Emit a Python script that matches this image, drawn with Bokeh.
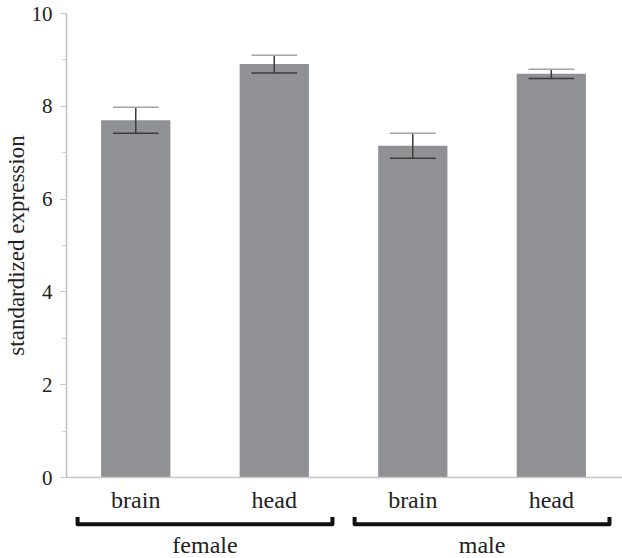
from bokeh.plotting import figure
from bokeh.models import SingleIntervalTicker, FixedTicker, ColumnDataSource, Range1d
from bokeh.layouts import column
from bokeh.core.properties import value
from bokeh.embed import file_html
from bokeh.resources import INLINE
import numpy as np

# ---- data ----
groups = ["female", "male"]
tissues = ["brain", "head"]
means = [7.70, 8.91, 7.15, 8.70]
errors = [0.28, 0.19, 0.27, 0.10]
y_ticks = [0, 2, 4, 6, 8, 10]

# ---- derived ----
labels = [t for g in groups for t in tissues]
xpos = np.arange(len(labels)) + 0.5
means_a = np.array(means)
err_a = np.array(errors)
group_centers = [float(np.mean(xpos[i * len(tissues):(i + 1) * len(tissues)])) for i in range(len(groups))]

FONT = "Liberation Serif"
W = 622
TOP_H = 515
BOT_H = 558 - TOP_H

xr = Range1d(0, 4.014)

p = figure(width=W, height=TOP_H, output_backend="svg", toolbar_location=None,
           x_range=xr, y_range=Range1d(min(y_ticks), max(y_ticks)))
p.min_border_top = 13
p.min_border_bottom = TOP_H - 478
p.min_border_right = 0
p.min_border_left = 66
p.outline_line_color = None
p.xgrid.visible = False
p.ygrid.visible = False

yax = p.yaxis[0]
yax.ticker = SingleIntervalTicker(interval=2, num_minor_ticks=2)
yax.bounds = (min(y_ticks), max(y_ticks))
yax.axis_label = "standardized expression"
yax.axis_label_text_font = FONT
yax.axis_label_text_font_size = "23px"
yax.axis_label_text_font_style = "normal"
yax.axis_label_text_color = "#222222"
yax.axis_label_standoff = 0
yax.major_label_text_font = FONT
yax.major_label_text_font_size = "21px"
yax.major_label_text_color = "#222222"
yax.major_label_standoff = 8
yax.axis_line_color = "#c0c0c0"
yax.axis_line_width = 1.5
yax.major_tick_line_color = "#b8b8b8"
yax.minor_tick_line_color = "#c8c8c8"
yax.major_tick_in = 0
yax.major_tick_out = 6
yax.minor_tick_in = 0
yax.minor_tick_out = 4

xax = p.xaxis[0]
xax.ticker = FixedTicker(ticks=list(xpos), minor_ticks=[])
xax.major_label_overrides = {float(x): l for x, l in zip(xpos, labels)}
xax.major_label_text_font = FONT
xax.major_label_text_font_size = "24px"
xax.major_label_text_color = "#222222"
xax.major_label_standoff = 9
xax.major_tick_line_color = None
xax.minor_tick_line_color = None
xax.major_tick_out = 0
xax.major_tick_in = 0
xax.axis_line_color = "#c8c8c8"
xax.axis_line_width = 1.5

src = ColumnDataSource(dict(x=xpos, top=means_a))
p.vbar(x="x", top="top", width=0.5, source=src, fill_color="#909195", line_color=None)

cap = 0.165
p.segment(x0=xpos, y0=means_a - err_a, x1=xpos, y1=means_a + err_a, line_color="#3c3c3c", line_width=1.5)
p.segment(x0=xpos - cap, y0=means_a + err_a, x1=xpos + cap, y1=means_a + err_a, line_color="#a3a3a3", line_width=1.5)
p.segment(x0=xpos - cap, y0=means_a - err_a, x1=xpos + cap, y1=means_a - err_a, line_color="#3c3c3c", line_width=1.5)

# ---- bottom strip: group brackets and labels (pixel-like units, 0 = top of strip) ----
b = figure(width=W, height=BOT_H, output_backend="svg", toolbar_location=None,
           x_range=xr, y_range=Range1d(BOT_H, 0),
           x_axis_location=None, y_axis_location=None)
b.min_border_top = 0
b.min_border_bottom = 0
b.min_border_right = 0
b.min_border_left = 66
b.outline_line_color = None
b.xgrid.visible = False
b.ygrid.visible = False

half = 0.92
base_y = 523.7 - TOP_H
tip_y = 516.5 - TOP_H
xs = [[c - half, c - half, c + half, c + half] for c in group_centers]
ys = [[tip_y, base_y, base_y, tip_y] for _ in group_centers]
b.multi_line(xs=xs, ys=ys, line_color="#111111", line_width=4, line_join="round", line_cap="butt")

b.text(x=group_centers, y=[544 - TOP_H] * len(groups), text=groups, text_font=value(FONT),
       text_font_size="24px", text_align="center", text_baseline="middle", text_color="#222222")

layout = column(p, b, spacing=0)
open("out.html", "w").write(file_html(layout, INLINE))
